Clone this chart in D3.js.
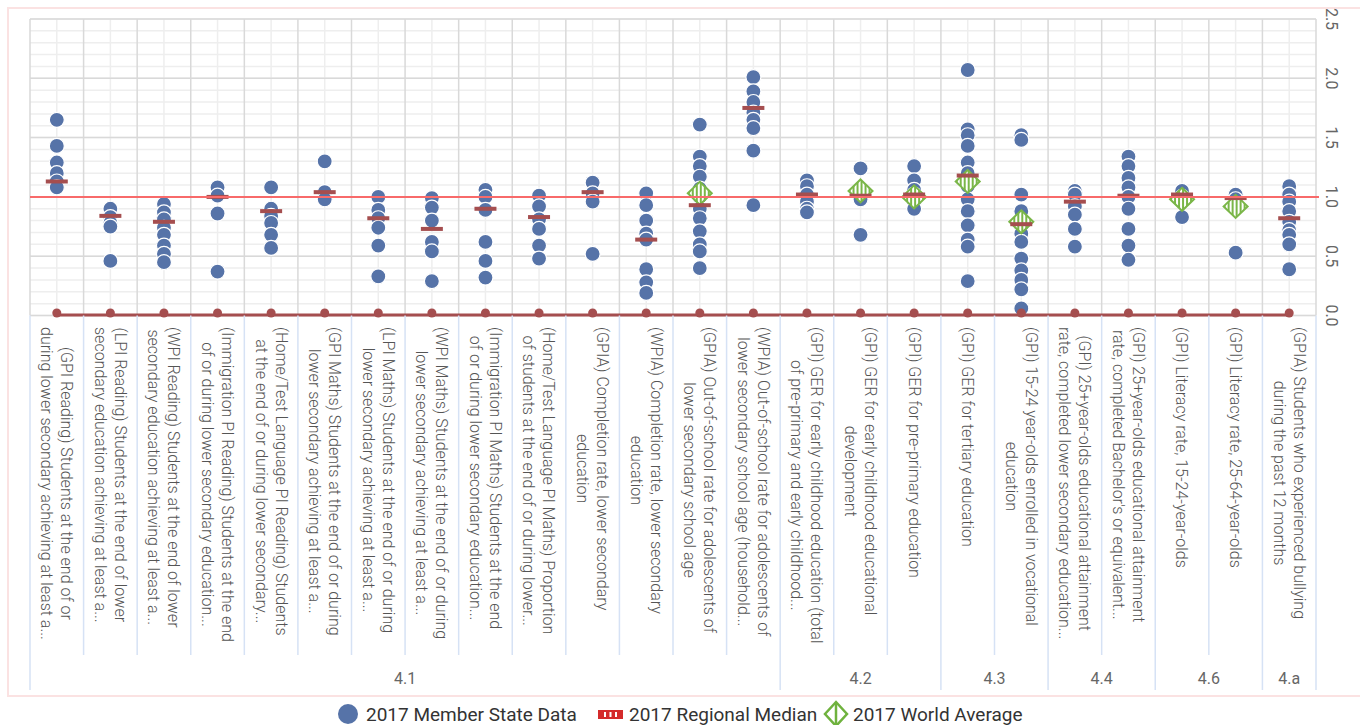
<!DOCTYPE html>
<html>
<head>
<meta charset="utf-8">
<script src="https://cdnjs.cloudflare.com/ajax/libs/d3/7.8.5/d3.min.js"></script>
<style>
body { margin: 0; background: #fff; }
text { font-family: Roboto, "Open Sans", sans-serif; }
</style>
</head>
<body>
<div id="chart"></div>
<script>
// category labels, already wrapped the way the picture shows them
const categories = [
    ["(GPI Reading) Students at the end of or", "during lower secondary achieving at least a..."],
    ["(LPI Reading) Students at the end of lower", "secondary education achieving at least a..."],
    ["(WPI Reading) Students at the end of lower", "secondary education achieving at least a..."],
    ["(Immigration PI Reading) Students at the end", "of or during lower secondary education..."],
    ["(Home/Test Language PI Reading) Students", "at the end of or during lower secondary..."],
    ["(GPI Maths) Students at the end of or during", "lower secondary achieving at least a..."],
    ["(LPI Maths) Students at the end of or during", "lower secondary achieving at least a..."],
    ["(WPI Maths) Students  at the end of or during", "lower secondary achieving at least a..."],
    ["(Immigration PI Maths) Students at the end", "of or during lower secondary education..."],
    ["(Home/Test Language PI Maths) Proportion", "of students at the end of or during lower..."],
    ["(GPIA) Completion rate, lower secondary", "education"],
    ["(WPIA) Completion rate, lower secondary", "education"],
    ["(GPIA) Out-of-school rate for adolescents of", "lower secondary school age"],
    ["(WPIA) Out-of-school rate for adolescents of", "lower secondary school age (household..."],
    ["(GPI) GER for early childhood education (total", "of pre-primary and early childhood..."],
    ["(GPI) GER for early childhood educational", "development"],
    ["(GPI) GER for pre-primary education"],
    ["(GPI) GER for tertiary education"],
    ["(GPI) 15-24 year-olds enrolled in vocational", "education"],
    ["(GPI) 25+year-olds educational attainment", "rate, completed lower secondary education..."],
    ["(GPI) 25+year-olds educational attainment", "rate, completed Bachelor's or equivalent..."],
    ["(GPI) Literacy rate, 15-24-year-olds"],
    ["(GPI) Literacy rate, 25-64-year-olds"],
    ["(GPIA) Students who experienced bullying", "during the past 12 months"]
];

const groupNames = ["4.1", "4.2", "4.3", "4.4", "4.6", "4.a"];
const groupSizes = [14, 3, 2, 2, 2, 1];

const memberData = [
    [1.65, 1.43, 1.29, 1.2, 1.13, 1.08],
    [0.9, 0.83, 0.78, 0.75, 0.46],
    [0.94, 0.87, 0.81, 0.74, 0.68, 0.59, 0.52, 0.45],
    [1.08, 1.01, 0.86, 0.37],
    [1.08, 0.9, 0.84, 0.78, 0.68, 0.57],
    [1.3, 1.04, 0.98],
    [1.0, 0.89, 0.82, 0.74, 0.59, 0.33],
    [0.99, 0.91, 0.8, 0.62, 0.54, 0.29],
    [1.06, 1.0, 0.89, 0.62, 0.46, 0.32],
    [1.01, 0.92, 0.81, 0.73, 0.59, 0.48],
    [1.12, 1.03, 0.96, 0.52],
    [1.03, 0.93, 0.8, 0.69, 0.64, 0.39, 0.28, 0.19],
    [1.61, 1.34, 1.26, 1.17, 1.07, 1.0, 0.9, 0.82, 0.71, 0.6, 0.54, 0.4],
    [2.01, 1.89, 1.8, 1.71, 1.65, 1.58, 1.39, 0.93],
    [1.14, 1.09, 1.02, 0.96, 0.9, 0.87],
    [1.24, 0.98, 0.68],
    [1.26, 1.14, 1.06, 1.02, 0.96, 0.9],
    [2.07, 1.57, 1.52, 1.43, 1.29, 1.2, 1.09, 0.98, 0.88, 0.76, 0.64, 0.58, 0.29],
    [1.52, 1.48, 1.02, 0.88, 0.75, 0.69, 0.62, 0.48, 0.38, 0.3, 0.22, 0.06],
    [1.05, 1.02, 0.92, 0.85, 0.73, 0.58],
    [1.34, 1.26, 1.16, 1.08, 1.0, 0.9, 0.73, 0.59, 0.47],
    [1.05, 1.0, 0.83],
    [1.02, 0.98, 0.92, 0.53],
    [1.09, 1.02, 0.96, 0.88, 0.79, 0.72, 0.68, 0.6, 0.39]
];

const regionalMedian = [1.13, 0.84, 0.79, 1.0, 0.88, 1.04, 0.82, 0.73, 0.9, 0.83, 1.04, 0.64,
    0.93, 1.75, 1.02, 1.01, 1.02, 1.18, 0.77, 0.96, 1.01, 1.02, 0.99, 0.82];

const worldAverage = [null, null, null, null, null, null, null, null, null, null, null, null,
    1.03, null, null, 1.05, 1.0, 1.13, 0.79, null, null, 0.98, 0.92, null];

const zeroSeries = categories.map(function() { return 0; });
const referenceValue = 1.0;
const yTicks = [0, 0.5, 1, 1.5, 2, 2.5];
const legendNames = ["2017 Member State Data", "2017 Regional Median", "2017 World Average"];

function main() {
    let width = 1360;
    let height = 725;
    let plotLeft = 30, plotRight = 1316, plotTop = 19, plotBottom = 315.5;

    let svg = d3.select("#chart").append("svg")
        .attr("width", width)
        .attr("height", height);

    let defs = svg.append("defs");
    let pat = defs.append("pattern")
        .attr("id", "stripes")
        .attr("patternUnits", "userSpaceOnUse")
        .attr("width", 4)
        .attr("height", 4);
    pat.append("rect").attr("width", 4).attr("height", 4).attr("fill", "#fff");
    pat.append("rect").attr("width", 2).attr("height", 4).attr("fill", "#7ab648");

    // outer frame
    svg.append("rect")
        .attr("x", 8).attr("y", 8)
        .attr("width", 1400).attr("height", 688)
        .attr("fill", "none")
        .attr("stroke", "#fbe2e2")
        .attr("stroke-width", 2);

    let xScale = d3.scaleBand()
        .domain(d3.range(categories.length))
        .range([plotLeft, plotRight]);
    let yScale = d3.scaleLinear()
        .domain([0, 2.5])
        .range([plotBottom, plotTop]);
    let cx = function(i) { return xScale(i) + xScale.bandwidth() / 2; };

    // grid
    let grid = svg.append("g");
    grid.selectAll(".hminor")
        .data(yScale.ticks(25))
        .enter().append("line")
        .attr("x1", plotLeft).attr("x2", plotRight)
        .attr("y1", d => yScale(d)).attr("y2", d => yScale(d))
        .attr("stroke", "#eeeeee").attr("stroke-width", 1.5);
    grid.selectAll(".vminor")
        .data(d3.range(categories.length))
        .enter().append("line")
        .attr("x1", d => cx(d)).attr("x2", d => cx(d))
        .attr("y1", plotTop).attr("y2", plotBottom)
        .attr("stroke", "#eeeeee").attr("stroke-width", 1.5);
    grid.selectAll(".hmajor")
        .data(yTicks)
        .enter().append("line")
        .attr("x1", plotLeft).attr("x2", plotRight)
        .attr("y1", d => yScale(d)).attr("y2", d => yScale(d))
        .attr("stroke", "#d9d9d9").attr("stroke-width", 1.5);
    grid.selectAll(".vmajor")
        .data(d3.range(categories.length + 1))
        .enter().append("line")
        .attr("x1", d => xScale(0) + d * xScale.bandwidth())
        .attr("x2", d => xScale(0) + d * xScale.bandwidth())
        .attr("y1", plotTop).attr("y2", plotBottom)
        .attr("stroke", "#d9d9d9").attr("stroke-width", 1.5);

    // y axis labels, turned like the rest of the chart
    svg.append("g").selectAll("text")
        .data(yTicks)
        .enter().append("text")
        .attr("transform", d => "translate(1332," + yScale(d) + ") rotate(90)")
        .attr("text-anchor", "middle")
        .attr("dy", "0.35em")
        .attr("font-size", 16)
        .attr("fill", "#666")
        .text(d => d.toFixed(1));

    // member state dots
    let dots = [];
    memberData.forEach(function(vals, i) {
        vals.forEach(function(v) { dots.push({i: i, v: v}); });
    });
    svg.append("g").selectAll("circle")
        .data(dots)
        .enter().append("circle")
        .attr("cx", d => cx(d.i))
        .attr("cy", d => yScale(d.v))
        .attr("r", 7.5)
        .attr("fill", "#5673a8")
        .attr("stroke", "#fff")
        .attr("stroke-width", 1.2);

    // world average diamonds
    let diamond = "M0,-11.5L12,0L0,11.5L-12,0Z";
    svg.append("g").selectAll("path")
        .data(worldAverage.map((v, i) => ({i: i, v: v})).filter(d => d.v !== null))
        .enter().append("path")
        .attr("d", diamond)
        .attr("transform", d => "translate(" + cx(d.i) + "," + yScale(d.v) + ")")
        .attr("fill", "url(#stripes)")
        .attr("stroke", "#7ab648")
        .attr("stroke-width", 2);

    // regional median bars
    svg.append("g").selectAll("rect")
        .data(regionalMedian)
        .enter().append("rect")
        .attr("x", (d, i) => cx(i) - 11)
        .attr("y", d => yScale(d) - 2)
        .attr("width", 22)
        .attr("height", 4)
        .attr("fill", "#a54e4f");

    // reference line at 1.0
    svg.append("line")
        .attr("x1", plotLeft).attr("x2", plotRight + 3)
        .attr("y1", yScale(referenceValue)).attr("y2", yScale(referenceValue))
        .attr("stroke", "#f86a6a")
        .attr("stroke-width", 2);

    // zero series
    svg.append("path")
        .datum(zeroSeries)
        .attr("d", d3.line().x((d, i) => cx(i)).y(d => yScale(d) - 0.5))
        .attr("fill", "none")
        .attr("stroke", "#a54e4f")
        .attr("stroke-width", 3);
    svg.append("g").selectAll("circle")
        .data(zeroSeries)
        .enter().append("circle")
        .attr("cx", (d, i) => cx(i))
        .attr("cy", d => yScale(d) - 2.5)
        .attr("r", 4.5)
        .attr("fill", "#a54e4f");

    // category label area
    let sepColor = "#d6e2f5";
    let bounds = [0];
    groupSizes.forEach(function(s) { bounds.push(bounds[bounds.length - 1] + s); });
    svg.append("g").selectAll("line")
        .data(d3.range(categories.length + 1))
        .enter().append("line")
        .attr("x1", d => xScale(0) + d * xScale.bandwidth())
        .attr("x2", d => xScale(0) + d * xScale.bandwidth())
        .attr("y1", plotBottom)
        .attr("y2", d => bounds.indexOf(d) >= 0 ? 690 : 655)
        .attr("stroke", sepColor)
        .attr("stroke-width", 1.5);

    let labelG = svg.append("g");
    categories.forEach(function(lines, i) {
        let t = labelG.append("text")
            .attr("font-size", 16)
            .attr("font-weight", 300)
            .attr("fill", "#555")
            .attr("text-anchor", "middle");
        lines.forEach(function(line, j) {
            t.append("tspan")
                .attr("x", 0)
                .attr("y", (j - (lines.length - 1) / 2) * 20)
                .attr("dy", "0.35em")
                .text(line);
        });
        let w = d3.max(t.selectAll("tspan").nodes(), n => n.getComputedTextLength());
        t.attr("transform", "translate(" + cx(i) + "," + (327 + w / 2) + ") rotate(90)");
    });

    svg.append("g").selectAll("text")
        .data(groupNames)
        .enter().append("text")
        .attr("x", (d, i) => (xScale(0) + (bounds[i] + bounds[i + 1]) / 2 * xScale.bandwidth()))
        .attr("y", 684)
        .attr("text-anchor", "middle")
        .attr("font-size", 16)
        .attr("fill", "#666")
        .text(d => d);

    // legend
    let lg = svg.append("g").attr("font-size", 19).attr("fill", "#333");
    lg.append("circle").attr("cx", 348).attr("cy", 714).attr("r", 10).attr("fill", "#5673a8");
    lg.append("text").attr("x", 366).attr("y", 721).text(legendNames[0]);
    lg.append("rect").attr("x", 598).attr("y", 710).attr("width", 25).attr("height", 9).attr("fill", "#d42b2b");
    [604, 609.5, 615].forEach(function(x) {
        lg.append("rect").attr("x", x).attr("y", 712).attr("width", 2).attr("height", 5).attr("fill", "#fff");
    });
    lg.append("text").attr("x", 629).attr("y", 721).text(legendNames[1]);
    lg.append("path")
        .attr("d", "M0,-12L11,0L0,12L-11,0Z")
        .attr("transform", "translate(836,714)")
        .attr("fill", "#fff")
        .attr("stroke", "#6fb23e")
        .attr("stroke-width", 2.5);
    lg.append("line").attr("x1", 836).attr("x2", 836).attr("y1", 703).attr("y2", 725)
        .attr("stroke", "#6fb23e").attr("stroke-width", 2.5);
    lg.append("text").attr("x", 853).attr("y", 721).text(legendNames[2]);
}

main();
</script>
</body>
</html>
